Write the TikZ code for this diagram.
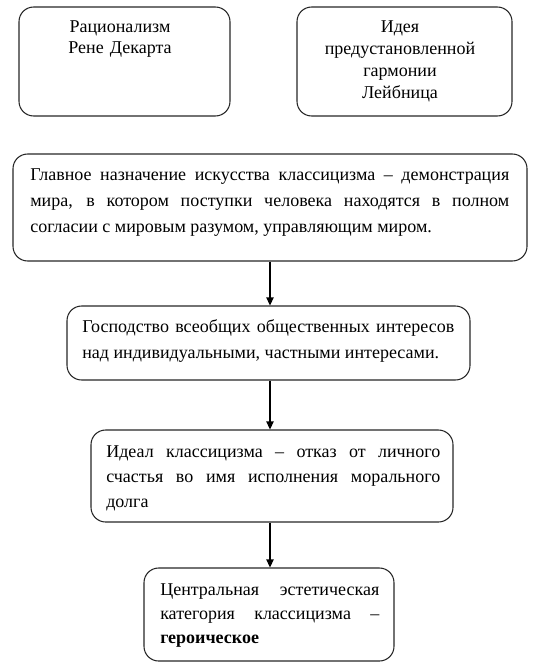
\documentclass[tikz,border=0pt]{standalone}
\usepackage{fontspec}
\setmainfont{Liberation Serif}
\usetikzlibrary{fit,arrows.meta}
\begin{document}
\begin{tikzpicture}[x=0.75pt,y=-0.75pt,
  frame/.style={draw=black!85, line width=0.8pt, rounded corners=11pt, inner sep=0pt},
  txt/.style={inner sep=0pt, font=\fontsize{13.5pt}{#1}\selectfont, align=justify},
  ctxt/.style={inner sep=0pt, font=\fontsize{13.5pt}{#1}\selectfont, align=center},
  arr/.style={draw=black, line width=0.8pt, -{Triangle[length=6pt,width=5.5pt]}}]
\useasboundingbox (0,0) rectangle (536,671);
% boxes
\node[frame, fit={(19,7) (230,116)}] (b1) {};
\node[frame, fit={(297,7) (512,116)}] (b2) {};
\node[frame, fit={(13,154) (527,261)}] (b3) {};
\node[frame, fit={(67,306) (470,380)}] (b4) {};
\node[frame, fit={(91,430) (453,522)}] (b5) {};
\node[frame, fit={(144,568) (394,661)}] (b6) {};
% texts
\node[ctxt=15.75pt, text width=150pt, anchor=base] (t1) at (120,32) {Рационализм\\Рене Декарта};
\node[ctxt=16.5pt, text width=150pt, anchor=base] (t2) at (400,32) {Идея\\предустановленной\\гармонии\\Лейбница};
\node[txt=19.5pt, text width=359.25pt, anchor=base west] (t3) at (30,180)
  {Главное назначение искусства классицизма – демонстрация\linebreak мира, в котором поступки человека находятся в полном\linebreak согласии с мировым разумом, управляющим миром.};
\node[txt=19.5pt, text width=279pt, anchor=base west] (t4) at (82,332)
  {Господство всеобщих общественных интересов\linebreak над индивидуальными, частными интересами.};
\node[txt=19pt, text width=250.5pt, anchor=base west] (t5) at (106,457)
  {Идеал классицизма – отказ от личного\linebreak счастья во имя исполнения морального\linebreak долга};
\node[txt=18pt, text width=164.25pt, anchor=base west] (t6) at (160,595)
  {Центральная эстетическая\linebreak категория классицизма –\linebreak \textbf{героическое}};
% arrows
\coordinate (ax) at (270,0);
\draw[arr] (b3.south -| ax) -- (b4.north -| ax);
\draw[arr] (b4.south -| ax) -- (b5.north -| ax);
\draw[arr] (b5.south -| ax) -- (b6.north -| ax);
\end{tikzpicture}
\end{document}
